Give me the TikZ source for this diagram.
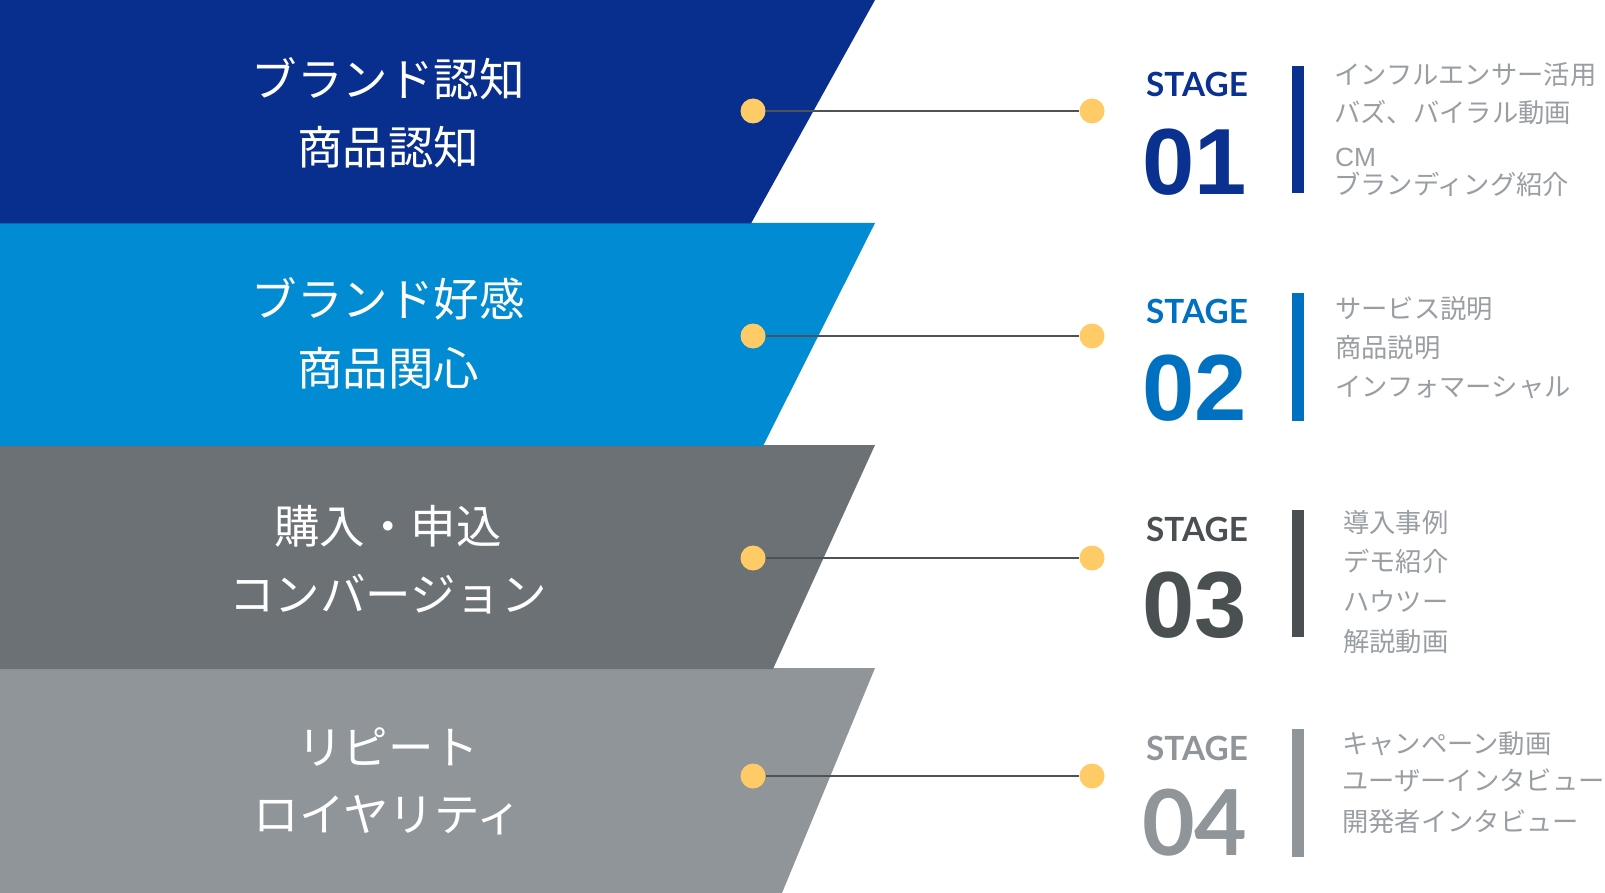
\documentclass[tikz,border=0pt]{standalone}
\usepackage{fontspec}
\newfontfamily\jp{Noto Sans CJK JP}
\newfontfamily\latofont{Lato}
\newfontfamily\arialfont{Liberation Sans}
\definecolor{bandA}{HTML}{082E8E}
\definecolor{bandB}{HTML}{008BD2}
\definecolor{bandC}{HTML}{6C7175}
\definecolor{bandD}{HTML}{8F9599}
\definecolor{stA}{HTML}{0A3190}
\definecolor{stB}{HTML}{0070C0}
\definecolor{stC}{HTML}{4A5051}
\definecolor{stD}{HTML}{8F9599}
\definecolor{itemgray}{HTML}{999EA2}
\definecolor{dotyellow}{HTML}{FFCB66}
\definecolor{linkgray}{HTML}{4D5254}
\tikzset{
  bandtext/.style={anchor=base, inner sep=0pt, text=white, font=\jp\fontsize{45.5}{50}\selectfont},
  stagelabel/.style={anchor=base west, inner sep=0pt, font=\latofont\bfseries\fontsize{33.3}{36}\selectfont},
  stagenum/.style={anchor=base west, inner sep=0pt, font=\arialfont\bfseries\fontsize{94}{100}\selectfont},
  stagenumlato/.style={anchor=base west, inner sep=0pt, font=\latofont\bfseries\fontsize{91}{100}\selectfont},
  itemtext/.style={anchor=base west, inner sep=0pt, text=itemgray, font=\jp\fontsize{26.3}{30}\selectfont},
  itemlatin/.style={anchor=base west, inner sep=0pt, text=itemgray, font=\arialfont\fontsize{26.3}{30}\selectfont},
  dot/.style={circle, fill=dotyellow, minimum size=25pt, inner sep=0pt},
  link/.style={draw=linkgray, line width=2pt},
}
\begin{document}
\begin{tikzpicture}[x=1pt,y=-1pt]
\path[use as bounding box] (0,0) rectangle (1605,893);
\fill[white] (0,0) rectangle (1605,893);
% bands
\fill[bandD] (0,668) -- (875,668) -- (782,893) -- (0,893) -- cycle;
\fill[bandC] (0,445) -- (875,445) -- (773,669) -- (0,669) -- cycle;
\fill[bandB] (0,223) -- (875,223) -- (763,446) -- (0,446) -- cycle;
\fill[bandA] (0,0) -- (875,0) -- (751,223.5) -- (0,223.5) -- cycle;
% band texts
\node[bandtext] (b1a) at (388,97) {ブランド認知};
\node[bandtext] (b1b) at (388,165) {商品認知};
\node[bandtext] (b2a) at (388,316) {ブランド好感};
\node[bandtext] (b2b) at (388,385) {商品関心};
\node[bandtext] (b3a) at (388,543) {購入・申込};
\node[bandtext] (b3b) at (388,611) {コンバージョン};
\node[bandtext] (b4a) at (388,764) {リピート};
\node[bandtext] (b4b) at (388,831) {ロイヤリティ};
% dots and links
\node[dot] (d1l) at (753,111) {};
\node[dot] (d1r) at (1092,111) {};
\node[dot] (d2l) at (753,336) {};
\node[dot] (d2r) at (1092,336) {};
\node[dot] (d3l) at (753,558) {};
\node[dot] (d3r) at (1092,558) {};
\node[dot] (d4l) at (753,776) {};
\node[dot] (d4r) at (1092,776) {};
\draw[link] (d1l) -- (d1r);
\draw[link] (d2l) -- (d2r);
\draw[link] (d3l) -- (d3r);
\draw[link] (d4l) -- (d4r);
% stage 1
\node[stagelabel, text=stA] (s1) at (1146,96.7) {STAGE};
\node[stagenum, text=stA] (n1) at (1142,195) {01};
\fill[stA] (1292,66) rectangle (1304,193);
\node[itemtext] (i1a) at (1334,85) {インフルエンサー活用};
\node[itemtext] (i1b) at (1334,123) {バズ、バイラル動画};
\node[itemlatin] (i1c) at (1335,167) {CM};
\node[itemtext] (i1d) at (1334,195) {ブランディング紹介};
% stage 2
\node[stagelabel, text=stB] (s2) at (1146,323) {STAGE};
\node[stagenum, text=stB] (n2) at (1142,420.7) {02};
\fill[stB] (1292,293) rectangle (1304,421);
\node[itemtext] (i2a) at (1335,318) {サービス説明};
\node[itemtext] (i2b) at (1335,357) {商品説明};
\node[itemtext] (i2c) at (1335,396) {インフォマーシャル};
% stage 3
\node[stagelabel, text=stC] (s3) at (1146,541) {STAGE};
\node[stagenum, text=stC] (n3) at (1142,637) {03};
\fill[stC] (1292,510) rectangle (1304,637);
\node[itemtext] (i3a) at (1343,532) {導入事例};
\node[itemtext] (i3b) at (1343,571) {デモ紹介};
\node[itemtext] (i3c) at (1343,611) {ハウツー};
\node[itemtext] (i3d) at (1343,651) {解説動画};
% stage 4
\node[stagelabel, text=stD] (s4) at (1146,760) {STAGE};
\node[stagenumlato, text=stD] (n4) at (1142,855) {04};
\fill[stD] (1292,729) rectangle (1304,857);
\node[itemtext] (i4a) at (1342,753) {キャンペーン動画};
\node[itemtext] (i4b) at (1342,790) {ユーザーインタビュー};
\node[itemtext] (i4c) at (1342,831) {開発者インタビュー};
\end{tikzpicture}
\end{document}
